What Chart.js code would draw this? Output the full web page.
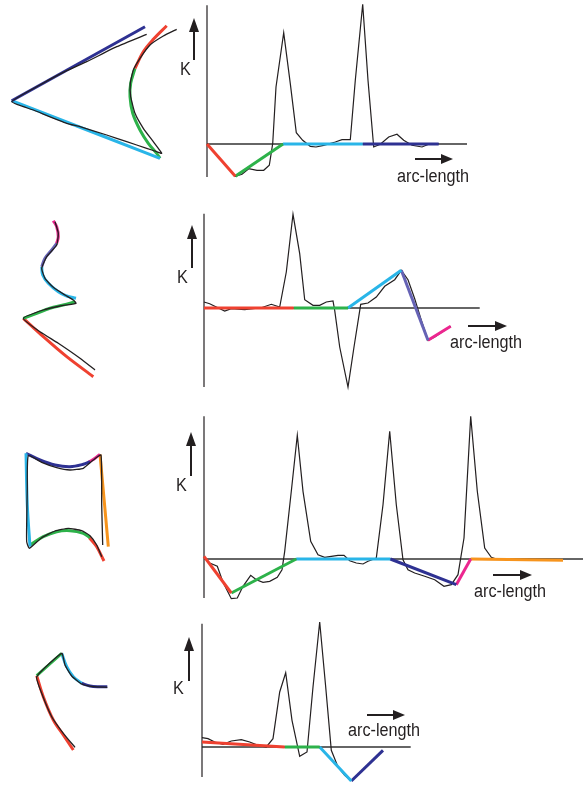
<!DOCTYPE html>
<html><head><meta charset="utf-8">
<script src="https://cdn.jsdelivr.net/npm/chart.js@4/dist/chart.umd.min.js"></script>
<style>
html,body{margin:0;padding:0;background:#fff;}
body{width:584px;height:785px;overflow:hidden;position:relative;font-family:"Liberation Sans",Arial,Helvetica,sans-serif;}
.lbl{position:absolute;font-size:18px;line-height:18px;color:#231f20;white-space:nowrap;transform:scaleX(0.9);transform-origin:0 0;}
.shaft{position:absolute;background:#231f20;}
.head{position:absolute;width:0;height:0;}
canvas{position:absolute;}
</style></head><body>
<script>
// ---------- curvature profiles (arc-length, curvature K) ----------
const r1Arc   = [0, 2.83, 3.5, 4.17, 5.0, 5.67, 6.23, 6.57, 6.9, 7.67, 8.33, 8.93, 9.57, 10.33, 10.9, 11.67, 12.83, 13.5, 14.33, 14.83, 15.57, 16.1, 16.67, 17.33, 18.17, 19.0, 19.67, 20.5, 21.5, 22.17, 23.17];
const r1Kappa = [0, -3.23, -3.03, -2.47, -2.63, -2.63, -2.13, 0.03, 5.7, 11.13, 6.03, 1.13, 0.37, -0.23, -0.3, -0.13, 0.2, 0.43, 0.43, 6.37, 13.97, 6.37, -0.3, -0.03, 0.7, 0.97, 0.37, -0.13, -0.3, -0.03, 0.03];
const r1FitArc   = [0, 2.83, 7.6, 15.57, 23.17];
const r1FitKappa = [0, -3.23, 0, 0, 0];
const r1Axis = [-3.3, 13.87, 26];   // K min, K max, arc-length end

const r2Arc   = [0, 0.57, 1.23, 2.07, 2.73, 4.07, 4.9, 5.73, 6.73, 7.57, 8.23, 8.9, 9.57, 10.07, 10.9, 11.57, 12.23, 12.9, 13.07, 13.57, 14.4, 15.0, 15.67, 16.4, 17.23, 18.07, 19.07, 19.73, 20.4, 21.07, 21.73, 22.4, 23.07, 24.67];
const r2Kappa = [0.6, 0.43, 0.1, -0.3, -0.07, -0.17, -0.07, 0.03, 0.37, 0.1, 3.6, 9.37, 5.43, 0.83, 0.27, 0.27, 0.6, 0.7, -0.23, -3.9, -7.9, -3.9, 0.37, 0.5, 1.1, 2.17, 2.83, 3.77, 2.83, 0.93, -1.23, -3.23, -2.9, -1.83];
const r2FitArc   = [0, 8.97, 14.4, 19.73, 22.4, 24.67];
const r2FitKappa = [0, 0, 0, 3.77, -3.23, -1.83];
const r2Axis = [-7.9, 9.43, 27.57];

const r3Arc   = [0, 0.57, 1.33, 1.9, 2.73, 3.33, 3.9, 4.67, 5.23, 5.9, 6.57, 7.33, 7.8, 8.07, 8.73, 9.33, 9.9, 10.67, 11.4, 12.07, 12.73, 13.4, 14.0, 14.57, 15.23, 15.9, 16.4, 17.23, 17.9, 18.57, 19.23, 19.9, 20.4, 21.07, 22.07, 23.07, 24.0, 24.73, 25.4, 26.0, 26.67, 27.33, 28.07, 28.73, 29.23, 35.73];
const r3Kappa = [0.17, -0.4, -0.73, -2.33, -3.97, -3.9, -2.73, -1.63, -2.07, -2.33, -2.23, -1.83, -1.07, 0.77, 6.77, 12.37, 6.77, 1.77, 0.43, 0.17, 0.27, 0.37, 0.37, -0.17, -0.4, -0.5, -0.23, 0.1, 5.43, 12.77, 5.43, -0.07, -1.07, -1.4, -1.73, -2.07, -2.73, -2.57, -1.57, 2.1, 14.27, 6.77, 1.1, 0.17, 0, -0.07];
const r3FitArc   = [0, 2.73, 9.23, 18.63, 25.23, 26.67, 35.9];
const r3FitKappa = [0.27, -3.4, 0, 0, -2.57, 0, -0.13];
const r3Axis = [-3.9, 14.27, 37.9];

const r4Arc   = [0, 0.6, 1.27, 2.1, 2.93, 3.93, 4.77, 5.6, 6.43, 7.1, 7.77, 8.37, 9.0, 9.77, 10.5, 11.1, 11.77, 12.37, 12.93, 13.6, 14.27, 14.87];
const r4Kappa = [0.93, 0.83, 0.5, 0.27, 0.6, 0.73, 0.5, 0.17, 0, 0.83, 5.5, 7.43, 2.67, -0.93, -0.5, 6.0, 12.5, 6.0, -0.33, -2.0, -2.83, -3.33];
const r4FitArc   = [0, 8.27, 11.77, 14.93, 18.1];
const r4FitKappa = [0.5, 0, 0, -3.4, -0.33];
const r4Axis = [-3.0, 12.33, 20.87];

// ---------- contours (x, y in panel units, y downward) ----------
const s1Navy  = [[11.7,100.7],[145,26.7]];
const s1Cyan  = [[11.7,100.7],[160,158.3]];
const s1Red   = [[135,68.3],[143.3,51.7],[153.3,39.3],[166.7,25.7]];
const s1Green = [[135,68.3],[130.7,83.3],[130,96.7],[132.7,113.3],[140,130],[148.3,143.3],[156.7,153.3],[160,158.3]];
const s1Black = [[146.7,34.3],[116.7,46.7],[86.7,61.7],[66.7,70.7],[40,85],[11.7,101.7],[33.3,110],[66.7,123.3],[80,126.7],[106.7,135],[126.7,141.7],[146.7,148.3],[156.7,151.7],[161.7,153.3],[153.3,141.7],[143.3,128.3],[135,113.3],[130.7,96.7],[130.3,83.3],[133.3,70],[140,58.3],[150,45],[163.3,36],[176.7,29.3]];

const s2Pink   = [[53.3,20.7],[56.7,26.7],[58.3,36.7],[56.7,43.3]];
const s2Slate  = [[56.7,43.3],[51.7,50],[45,58.3],[41.7,66.7]];
const s2Cyan   = [[41.7,66.7],[42.7,75],[48.3,83.3],[58.3,91.7],[66.7,96],[76,98.3]];
const s2Green  = [[75,101.7],[63.3,105],[50,108.3],[36.7,113.3],[23.3,118.3]];
const s2Red    = [[23.3,118.3],[43.3,136.7],[66.7,156.7],[93.3,176.7]];
const s2Black  = [[55,21.7],[58.3,33.3],[56.7,45],[46.7,56.7],[41.7,68.3],[45,78.3],[53.3,87.3],[65,95],[73.3,100],[76,103.3],[60,106],[43.3,110],[23.3,118.3],[40,131.7],[58.3,143.3],[80,158.3],[95,170]];

const s3Cyan   = [[26,48.3],[27.3,100],[30,141.7]];
const s3Navy   = [[26,48.3],[40,55],[55,60],[70,61.7],[83.3,59.3],[90,56.7]];
const s3Pink   = [[88.3,57.3],[95,53.3],[100,49.3]];
const s3Orange = [[100,49.3],[104,93.3],[108.3,141.7]];
const s3Green  = [[30,140],[43.3,131.7],[56.7,126.7],[70,125.7],[83.3,128.3],[90,132.7]];
const s3Red    = [[89.3,132.7],[96.7,141.7],[104,156]];
const s3Black  = [[102.7,140],[101.7,100],[101,50],[93.3,55],[83.3,63.3],[70,65],[56.7,62.7],[41.7,57.3],[28.3,50.7],[27.3,83.3],[26.7,116.7],[26.7,136.7],[29.3,143.3],[41.7,132.7],[55,126],[68.3,123.3],[81.7,125.7],[90,130.7],[96.7,140],[101.7,151.7]];

const s4Green = [[36.7,65.7],[61.7,43.3]];
const s4Cyan  = [[61.7,43.3],[66.7,56.7],[73.3,66.7],[81.7,73.3]];
const s4Navy  = [[81.7,73.3],[90,76],[100,76.7],[107.3,76.7]];
const s4Red   = [[36.7,65.7],[43.3,86.7],[53.3,110],[63.3,125],[73.3,140]];
const s4Black = [[75,137.3],[63.3,123.3],[51.7,106.7],[41.7,83.3],[36.7,66.7],[61.7,43.3],[65,55],[71.7,66],[81.7,74],[93.3,76.7],[107.3,77.3]];

// ---------- styles ----------
const C = {red:'#EF4130', green:'#2DB24A', cyan:'#29B5E8', navy:'#2E3192', slate:'#6663B5', pink:'#EC268F', orange:'#F7941D', ink:'#231F20', axis:'#333333'};
const r1FitColors = [C.red, C.green, C.cyan, C.navy];
const r2FitColors = [C.red, C.green, C.cyan, C.slate, C.pink];
const r3FitColors = [C.red, C.green, C.cyan, C.navy, C.pink, C.orange];
const r4FitColors = [C.red, C.green, C.cyan, C.navy];

function line(points, color, width, order, tension) {
  return {data: points, showLine: true, borderColor: color, backgroundColor: color, borderWidth: width,
          pointRadius: 0, borderJoinStyle: 'miter', borderCapStyle: 'butt', tension: tension || 0, order: order, clip: false};
}
function makeChart(left, top, width, height, xs, ys, reverseY, datasets) {
  const c = document.createElement('canvas');
  c.width = width; c.height = height;
  c.style.left = left + 'px'; c.style.top = top + 'px';
  c.style.width = width + 'px'; c.style.height = height + 'px';
  document.body.appendChild(c);
  new Chart(c, {type: 'scatter', data: {datasets},
    options: {responsive: false, animation: false, devicePixelRatio: 1, events: [],
      layout: {padding: 0},
      plugins: {legend: {display: false}, tooltip: {enabled: false}},
      scales: {x: {type: 'linear', display: false, min: xs[0], max: xs[1]},
               y: {type: 'linear', display: false, min: ys[0], max: ys[1], reverse: reverseY}}}});
}
// curvature plot: origin pixel (ox, oy), px per unit s
function plot(ox, oy, s, xr, yr, arc, kappa, fitArc, fitKappa, colors, axis) {
  const ds = [];
  for (let i = 0; i < colors.length; i++)
    ds.push(line([{x: fitArc[i], y: fitKappa[i]}, {x: fitArc[i+1], y: fitKappa[i+1]}], colors[i], 3, 0));
  ds.push(line(arc.map((a, i) => ({x: a, y: kappa[i]})), C.ink, 1.2, 1));
  ds.push(line([{x: 0, y: axis[0]}, {x: 0, y: axis[1]}], C.ink, 1.2, 2));
  ds.push(line([{x: 0, y: 0}, {x: axis[2], y: 0}], C.axis, 1.3, 2));
  const left = ox + xr[0] * s, top = oy - yr[1] * s;
  makeChart(left, top, Math.round((xr[1] - xr[0]) * s), Math.round((yr[1] - yr[0]) * s), xr, yr, false, ds);
}
function shape(top, height, parts, black) {
  const ds = parts.map(p => line(p[0].map(q => ({x: q[0], y: q[1]})), p[1], 3, 1, 0.35));
  ds.unshift(line(black.map(q => ({x: q[0], y: q[1]})), C.ink, 1.3, 0, 0.15));
  makeChart(0, top, 185, height, [0, 185], [0, height], true, ds);
}
function label(text, left, baseline) {
  const d = document.createElement('div'); d.className = 'lbl'; d.textContent = text;
  d.style.left = left + 'px'; d.style.top = (baseline - 15.2) + 'px';
  document.body.appendChild(d);
}
function arrowUp(x, tip, tail) {
  const s = document.createElement('div'); s.className = 'shaft';
  s.style.left = (x - 1.2) + 'px'; s.style.top = (tip + 12) + 'px'; s.style.width = '2.4px'; s.style.height = (tail - tip - 12) + 'px';
  const h = document.createElement('div'); h.className = 'head';
  h.style.left = (x - 5) + 'px'; h.style.top = tip + 'px';
  h.style.borderLeft = '5px solid transparent'; h.style.borderRight = '5px solid transparent'; h.style.borderBottom = '14px solid ' + C.ink;
  document.body.appendChild(s); document.body.appendChild(h);
}
function arrowRight(tail, tip, y) {
  const s = document.createElement('div'); s.className = 'shaft';
  s.style.left = tail + 'px'; s.style.top = (y - 1.1) + 'px'; s.style.width = (tip - tail - 10) + 'px'; s.style.height = '2.2px';
  const h = document.createElement('div'); h.className = 'head';
  h.style.left = (tip - 12) + 'px'; h.style.top = (y - 5) + 'px';
  h.style.borderTop = '5px solid transparent'; h.style.borderBottom = '5px solid transparent'; h.style.borderLeft = '12px solid ' + C.ink;
  document.body.appendChild(s); document.body.appendChild(h);
}

// row 1
shape(0, 195, [[s1Navy, C.navy], [s1Cyan, C.cyan], [s1Red, C.red], [s1Green, C.green]], s1Black);
plot(206.7, 143.7, 10, [-1, 27], [-4, 14.5], r1Arc, r1Kappa, r1FitArc, r1FitKappa, r1FitColors, r1Axis);
// row 2
shape(200, 200, [[s2Pink, C.pink], [s2Slate, C.slate], [s2Cyan, C.cyan], [s2Green, C.green], [s2Red, C.red]], s2Black);
plot(204.3, 307.7, 10, [-1, 28.5], [-8.5, 10], r2Arc, r2Kappa, r2FitArc, r2FitKappa, r2FitColors, r2Axis);
// row 3
shape(405, 200, [[s3Cyan, C.cyan], [s3Navy, C.navy], [s3Pink, C.pink], [s3Orange, C.orange], [s3Green, C.green], [s3Red, C.red]], s3Black);
plot(204.3, 559.3, 10, [-1, 38.5], [-4.5, 14.8], r3Arc, r3Kappa, r3FitArc, r3FitKappa, r3FitColors, r3Axis);
// row 4
shape(610, 175, [[s4Green, C.green], [s4Cyan, C.cyan], [s4Navy, C.navy], [s4Red, C.red]], s4Black);
plot(202.3, 746.7, 10, [-1, 21.5], [-3.6, 13], r4Arc, r4Kappa, r4FitArc, r4FitKappa, r4FitColors, r4Axis);

// annotations
arrowUp(194.3, 18, 60);   label('K', 180, 75.5);  arrowRight(415, 453, 159.3);   label('arc-length', 396.5, 182);
arrowUp(192.3, 225, 268); label('K', 176.7, 283.5); arrowRight(468.3, 506.7, 325.7); label('arc-length', 449.8, 348);
arrowUp(191, 431.7, 475.7); label('K', 175.7, 491); arrowRight(493.3, 531.7, 575); label('arc-length', 474, 597.5);
arrowUp(189, 636.7, 680.7); label('K', 173.3, 694); arrowRight(366.7, 405, 715); label('arc-length', 347.5, 736.5);
</script>
</body></html>
